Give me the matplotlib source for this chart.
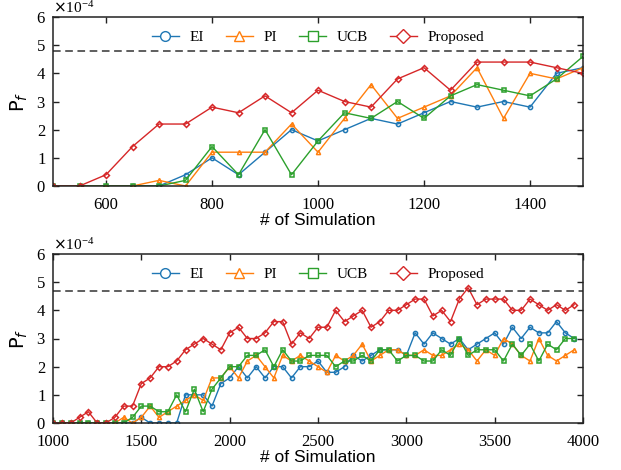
import numpy as np
import matplotlib
matplotlib.use("Agg")
import matplotlib.pyplot as plt
from matplotlib.lines import Line2D

# ---------------- data (units of 1e-4) ----------------
x_top = list(range(500, 1501, 50))
ei_top = [0, 0, 0, 0, 0, 0.4, 1.0, 0.4, 1.2, 2.0, 1.6, 2.0, 2.4, 2.2, 2.6, 3.0, 2.8, 3.0, 2.8, 4.0, 4.2]
pi_top = [0, 0, 0, 0, 0.2, 0, 1.2, 1.2, 1.2, 2.2, 1.2, 2.4, 3.6, 2.4, 2.8, 3.2, 4.2, 2.4, 4.0, 3.8, 4.2]
ucb_top = [0, 0, 0, 0, 0, 0.2, 1.4, 0.4, 2.0, 0.4, 1.6, 2.6, 2.4, 3.0, 2.4, 3.2, 3.6, 3.4, 3.2, 3.8, 4.6]
prop_top = [0, 0, 0.4, 1.4, 2.2, 2.2, 2.8, 2.6, 3.2, 2.6, 3.4, 3.0, 2.8, 3.8, 4.2, 3.4, 4.4, 4.4, 4.4, 4.2, 4.0]
ref_top = 4.8

x_bot = list(range(1000, 4000, 50))
ei_bot = [0, 0, 0, 0, 0, 0, 0, 0, 0, 0,
          0.2, 0, 0, 0, 0, 1.0, 1.0, 1.0, 0.6, 1.4,
          1.6, 2.0, 1.6, 2.0, 1.6, 2.0, 2.0, 1.6, 2.0, 2.0,
          2.2, 1.8, 1.8, 2.0, 2.4, 2.2, 2.4, 2.6, 2.6, 2.6,
          2.4, 3.2, 2.8, 3.2, 3.0, 2.8, 3.0, 2.6, 2.8, 3.0,
          3.2, 2.8, 3.4, 3.0, 3.4, 3.2, 3.2, 3.6, 3.2, 3.0]
pi_bot = [0, 0, 0, 0, 0, 0, 0, 0, 0.2, 0,
          0.2, 0.6, 0.2, 0.4, 0.6, 0.8, 1.0, 0.8, 1.6, 1.6,
          2.0, 1.6, 2.2, 2.4, 2.0, 1.6, 2.4, 2.2, 2.4, 2.2,
          2.0, 1.8, 2.4, 2.2, 2.4, 2.8, 2.2, 2.4, 2.6, 2.6,
          2.4, 2.4, 2.6, 2.4, 2.4, 2.6, 2.8, 2.6, 2.2, 2.6,
          2.4, 3.0, 2.8, 2.4, 2.2, 3.0, 2.4, 2.2, 2.4, 2.6]
ucb_bot = [0, 0, 0, 0, 0, 0, 0, 0, 0, 0.2,
           0.6, 0.6, 0.4, 0.4, 1.0, 0.4, 1.2, 0.4, 1.2, 1.6,
           2.0, 2.0, 2.4, 2.4, 2.6, 2.0, 2.6, 2.2, 2.2, 2.4,
           2.4, 2.4, 2.0, 2.2, 2.2, 2.4, 2.2, 2.6, 2.6, 2.2,
           2.4, 2.4, 2.2, 2.2, 2.6, 2.4, 3.0, 2.4, 2.6, 2.6,
           2.6, 2.2, 2.8, 2.4, 2.8, 2.2, 2.8, 2.6, 3.0, 3.0]
prop_bot = [0, 0, 0, 0.2, 0.4, 0, 0, 0.2, 0.6, 0.6,
            1.4, 1.6, 2.0, 2.0, 2.2, 2.6, 2.8, 3.0, 2.8, 2.6,
            3.2, 3.4, 3.0, 3.0, 3.2, 3.6, 3.6, 2.8, 3.2, 3.0,
            3.4, 3.4, 4.0, 3.6, 3.8, 4.0, 3.4, 3.6, 4.0, 4.0,
            4.2, 4.4, 4.4, 3.8, 4.0, 3.6, 4.4, 4.8, 4.2, 4.4,
            4.4, 4.4, 4.0, 4.0, 4.4, 4.2, 4.0, 4.2, 4.0, 4.2]
ref_bot = 4.7

labels = ["EI", "PI", "UCB", "Proposed"]
scale = 1e-4

colors = ["#1f77b4", "#ff7f0e", "#2ca02c", "#d62728"]
markers = ["o", "^", "s", "D"]

serif = ["Liberation Serif", "DejaVu Serif"]
sans = ["Liberation Sans", "DejaVu Sans"]

fig = plt.figure(figsize=(6.21, 4.70), dpi=100)
ax1 = fig.add_axes([53/621, 1-186/470, 530/621, 169/470])
ax2 = fig.add_axes([53/621, 1-423/470, 530/621, 169/470])


def draw(ax, x, series, ref, xlim, xticks):
    for ys, c, m, lab in zip(series, colors, markers, labels):
        ax.plot(x, np.array(ys) * scale, color=c, marker=m, markersize=3.0,
                markerfacecolor="none", markeredgewidth=1.1, linewidth=1.0,
                label=lab)
    ax.axhline(ref * scale, color="#333333", linestyle=(0, (5, 3)), linewidth=1.1)
    ax.set_xlim(*xlim)
    ax.set_ylim(0, 6e-4)
    ax.set_xticks(xticks)
    ax.set_yticks(np.arange(0, 7) * 1e-4)
    ax.ticklabel_format(axis="y", style="sci", scilimits=(-4, -4), useMathText=True)
    ax.tick_params(direction="in", top=True, right=True, length=4, width=1,
                   labelsize=12, color="#222222")
    ax.tick_params(axis="x", pad=8)
    ax.tick_params(axis="y", pad=5)
    for lbl in ax.get_xticklabels() + ax.get_yticklabels():
        lbl.set_family(serif)
    ax.yaxis.get_offset_text().set_family(serif)
    ax.yaxis.get_offset_text().set_fontsize(11)
    for s in ax.spines.values():
        s.set_linewidth(1.1)
        s.set_color("#222222")
    ax.set_xlabel("# of Simulation", fontsize=12.5, family=sans, labelpad=0)
    ax.set_ylabel(r"$\mathsf{P}_f$", fontsize=14, labelpad=4)
    handles = [Line2D([], [], color=c, marker=m, markersize=7,
                      markerfacecolor="white", markeredgewidth=1.0, linewidth=1.0)
               for c, m in zip(colors, markers)]
    ax.legend(handles, labels, loc="upper center", bbox_to_anchor=(0.5, 1.0),
              ncol=4, frameon=False, prop={"family": serif, "size": 11},
              handlelength=1.8, columnspacing=1.4, handletextpad=0.7)


draw(ax1, x_top, [ei_top, pi_top, ucb_top, prop_top], ref_top, (500, 1500),
     [600, 800, 1000, 1200, 1400])
draw(ax2, x_bot, [ei_bot, pi_bot, ucb_bot, prop_bot], ref_bot, (1000, 4000),
     [1000, 1500, 2000, 2500, 3000, 3500, 4000])

fig.savefig("out.png", dpi=100)
